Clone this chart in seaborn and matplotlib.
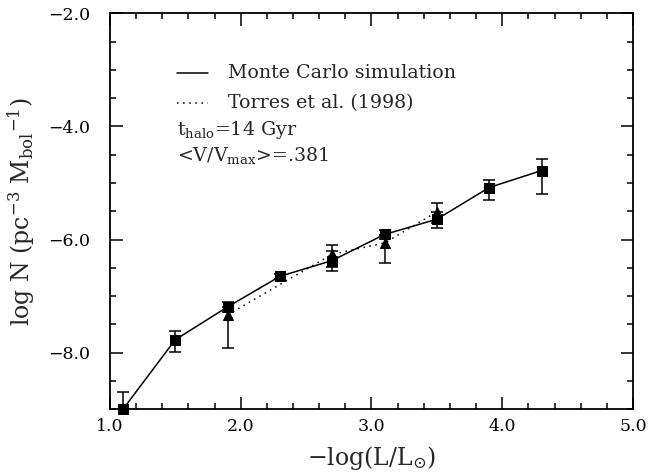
import matplotlib
matplotlib.use("Agg")
import matplotlib.pyplot as plt
from matplotlib.ticker import MultipleLocator, FuncFormatter
import seaborn as sns
import pandas as pd

# Monte Carlo luminosity function of halo white dwarfs
mc_logl = [1.1, 1.5, 1.9, 2.3, 2.7, 3.1, 3.5, 3.9, 4.3]
mc_logn = [-9.00, -7.77, -7.19, -6.65, -6.37, -5.91, -5.64, -5.08, -4.78]
mc_err_lo = [0.31, 0.21, 0.09, 0.05, 0.18, 0.08, 0.16, 0.22, 0.41]
mc_err_hi = [0.31, 0.15, 0.09, 0.05, 0.16, 0.08, 0.13, 0.14, 0.20]

# Torres et al. (1998)
tr_logl = [1.9, 2.7, 3.1, 3.5]
tr_logn = [-7.33, -6.26, -6.06, -5.51]
tr_err_lo = [0.58, 0.23, 0.36, 0.20]
tr_err_hi = [0.13, 0.16, 0.14, 0.16]

mc = pd.DataFrame({"logl": mc_logl, "logn": mc_logn})
tr = pd.DataFrame({"logl": tr_logl, "logn": tr_logn})

sns.set_theme(style="ticks")
plt.rcParams["font.family"] = ["DejaVu Serif"]
plt.rcParams["mathtext.fontset"] = "dejavuserif"

fig = plt.figure(figsize=(6.5, 4.74), dpi=100)
ax = fig.add_axes([0.169, 0.1365, 0.805, 0.8355])

ax.errorbar(mc_logl, mc_logn, yerr=[mc_err_lo, mc_err_hi], fmt="none",
            ecolor="black", elinewidth=1.1, capsize=4, capthick=1.1)
ax.errorbar(tr_logl, tr_logn, yerr=[tr_err_lo, tr_err_hi], fmt="none",
            ecolor="black", elinewidth=1.1, capsize=4, capthick=1.1)

sns.lineplot(data=tr, x="logl", y="logn", ax=ax, color="black",
             linestyle=(0, (1, 3)), linewidth=1.1, marker="^",
             markersize=7, markeredgecolor="black", clip_on=False)
sns.lineplot(data=mc, x="logl", y="logn", ax=ax, color="black",
             linestyle="-", linewidth=1.1, marker="s",
             markersize=7, markeredgecolor="black", clip_on=False)

ax.set_xlim(1.0, 5.0)
ax.set_ylim(-9.0, -2.0)
ax.xaxis.set_major_locator(MultipleLocator(1.0))
ax.xaxis.set_minor_locator(MultipleLocator(0.2))
ax.yaxis.set_major_locator(MultipleLocator(2.0))
ax.yaxis.set_minor_locator(MultipleLocator(0.5))
fmt = FuncFormatter(lambda v, _: f"{v:.1f}".replace("-", "\u2212"))
ax.xaxis.set_major_formatter(fmt)
ax.yaxis.set_major_formatter(fmt)
ax.tick_params(which="both", direction="in", top=True, right=True,
               width=1.1, labelsize=12.5, colors="black")
ax.tick_params(which="major", length=9)
ax.tick_params(axis="x", which="major", pad=6)
ax.tick_params(axis="y", which="major", pad=14)
ax.tick_params(which="minor", length=4.5)
for s in ax.spines.values():
    s.set_linewidth(1.3)
    s.set_color("black")

ax.set_xlabel(r"$-$log(L/L$_{\odot}$)", fontsize=17, labelpad=7)
ax.set_ylabel(r"log N (pc$^{-3}$ M$_{\rm bol}$$^{-1}$)", fontsize=17, labelpad=8)

# legend block drawn as text
ax.plot([1.51, 1.75], [-3.06, -3.06], color="black", linewidth=1.1)
ax.plot([1.51, 1.75], [-3.59, -3.59], color="black", linewidth=1.1,
        linestyle=(0, (1, 3)))
ax.text(1.90, -3.06, "Monte Carlo simulation", fontsize=13.7, va="center")
ax.text(1.90, -3.59, "Torres et al. (1998)", fontsize=13.7, va="center")
ax.text(1.51, -4.07, r"t$_{\rm halo}$=14 Gyr", fontsize=13.7, va="center")
ax.text(1.51, -4.51, r"<V/V$_{\rm max}$>=.381", fontsize=13.7, va="center")

fig.savefig("out.png", dpi=100)
